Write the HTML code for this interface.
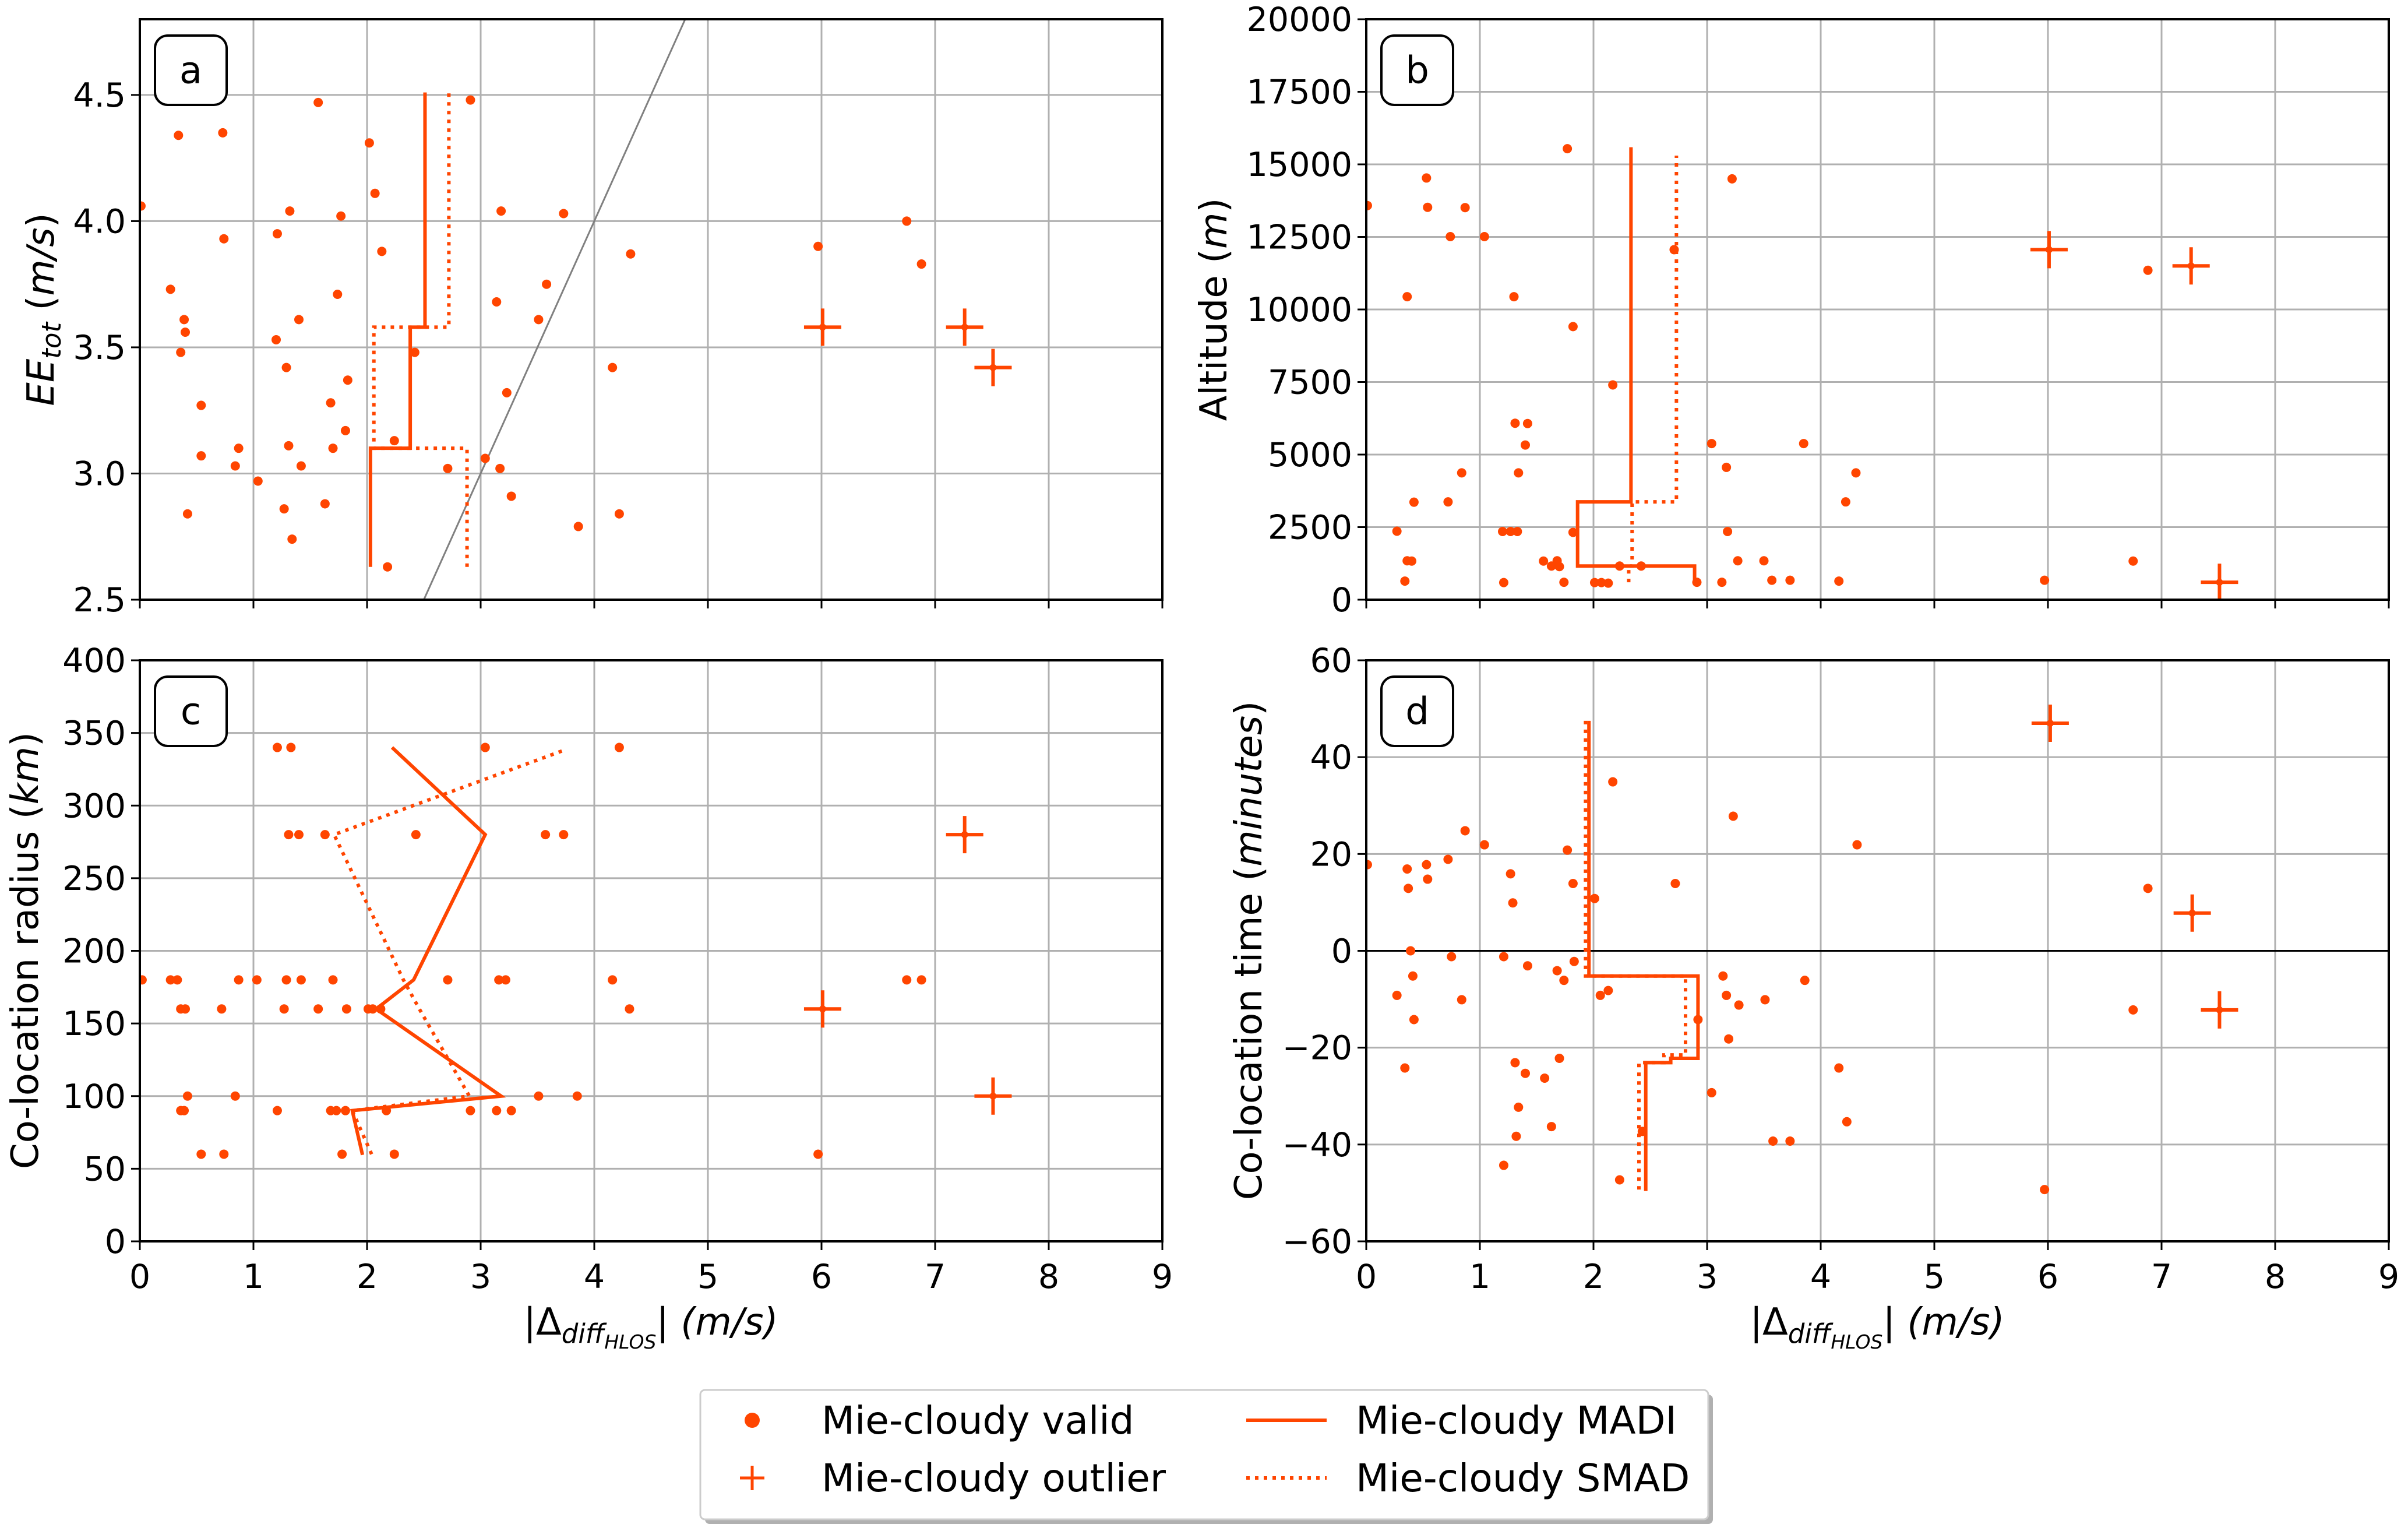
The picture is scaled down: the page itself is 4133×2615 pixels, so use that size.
<!DOCTYPE html>
<html><head><meta charset="utf-8">
<style>
html,body{margin:0;padding:0;background:#fff;}
svg{display:block;font-family:"DejaVu Sans","Liberation Sans",sans-serif;}
</style></head>
<body>
<svg id="fig" width="4133" height="2615" viewBox="0 0 4133 2615" xmlns="http://www.w3.org/2000/svg"></svg>
<script>
// ---------- DATA ----------
const aX = [0.01,0.34,0.73,1.57,2.02,2.91,2.07,1.32,1.77,3.18,3.73,0.74,1.21,2.13,4.32,0.27,1.74,3.58,3.14,0.39,0.40,1.40,3.51,1.20,0.36,2.42,1.29,4.16,1.83,3.23,0.54,1.68,1.81,2.24,0.87,1.31,1.70,0.54,3.04,0.84,1.42,2.71,3.17,1.04,3.27,1.27,1.63,0.42,4.22,3.86,1.34,2.18,5.97,6.75,6.88];
const aY = [4.06,4.34,4.35,4.47,4.31,4.48,4.11,4.04,4.02,4.04,4.03,3.93,3.95,3.88,3.87,3.73,3.71,3.75,3.68,3.61,3.56,3.61,3.61,3.53,3.48,3.48,3.42,3.42,3.37,3.32,3.27,3.28,3.17,3.13,3.10,3.11,3.10,3.07,3.06,3.03,3.03,3.02,3.02,2.97,2.91,2.86,2.88,2.84,2.84,2.79,2.74,2.63,3.90,4.00,3.83];
const aOutX = [6.01,7.26,7.51];
const aOutY = [3.58,3.58,3.42];
const aEdges = [2.63,3.10,3.58,4.51];
const aMADI = [2.03,2.38,2.51];
const aSMAD = [2.88,2.06,2.72];

const bX = [0.01,0.53,0.54,0.87,0.74,1.04,0.36,1.30,1.77,1.82,3.22,2.71,2.17,1.31,1.42,1.40,3.04,3.85,0.84,1.34,3.17,4.31,0.42,0.72,4.22,0.27,1.20,1.27,1.33,1.82,3.18,0.36,0.40,1.56,1.63,1.68,1.70,2.23,2.42,3.27,3.50,0.34,1.21,1.74,2.01,2.07,2.13,2.91,3.13,3.57,3.73,4.16,5.97,6.75,6.88];
const bY = [13580,14530,13520,13510,12510,12510,10440,10440,15540,9410,14500,12060,7400,6080,6070,5330,5380,5380,4370,4370,4560,4370,3360,3370,3370,2360,2350,2350,2350,2320,2350,1340,1330,1330,1160,1340,1140,1160,1160,1340,1340,640,590,600,590,590,570,600,600,670,670,640,670,1330,11350];
const bOutX = [6.01,7.26,7.51];
const bOutY = [12060,11500,600];
const bEdges = [600,1160,3370,15590];
const bMADI = [2.89,1.86,2.33];
const bSMADEdges = [600,1160,3370,15300];
const bSMAD = [2.31,2.34,2.73];

const cX = [1.21,1.33,3.04,4.22,1.31,1.40,1.63,2.43,3.57,3.73,0.02,0.27,0.33,0.87,1.03,1.29,1.42,1.70,2.71,3.16,3.22,4.16,6.75,6.88,0.36,0.40,0.72,1.27,1.57,1.82,2.01,2.05,2.12,4.31,0.42,0.84,3.51,3.85,0.36,0.39,1.21,1.68,1.73,1.81,2.17,2.91,3.14,3.27,0.54,0.74,1.78,2.24,5.97];
const cY = [340,340,340,340,280,280,280,280,280,280,180,180,180,180,180,180,180,180,180,180,180,180,180,180,160,160,160,160,160,160,160,160,160,160,100,100,100,100,90,90,90,90,90,90,90,90,90,90,60,60,60,60,60];
const cOutX = [6.01,7.26,7.51];
const cOutY = [160,280,100];
const cMADIx = [1.96,1.87,3.18,2.08,2.41,3.04,2.22];
const cMADIy = [59.5,90,100,160,180,280,340];
const cSMADx = [2.04,1.87,2.90,2.46,2.32,1.71,3.73];
const cSMADy = [60,90,100,160,180,280,338];

const dX = [0.01,0.36,0.37,0.53,0.54,0.72,0.87,1.04,1.27,1.29,1.77,1.82,2.01,2.17,2.72,3.23,4.32,6.88,0.39,0.27,0.41,0.42,0.75,0.84,0.34,1.21,1.42,1.68,1.74,1.83,2.06,2.13,2.92,3.14,3.17,3.28,3.51,3.86,3.19,6.75,1.31,1.40,1.57,1.70,3.04,1.34,1.63,1.32,2.43,3.58,3.73,4.16,4.23,1.21,2.23,5.97];
const dY = [17.8,16.9,12.9,17.8,14.8,18.9,24.8,21.9,15.9,9.9,20.8,13.9,10.8,34.9,13.9,27.8,21.9,12.9,0,-9.2,-5.2,-14.2,-1.2,-10.1,-24.2,-1.2,-3.1,-4.1,-6.1,-2.2,-9.2,-8.2,-14.2,-5.2,-9.2,-11.2,-10.1,-6.1,-18.2,-12.2,-23.1,-25.3,-26.3,-22.2,-29.3,-32.3,-36.3,-38.3,-37.3,-39.3,-39.3,-24.2,-35.3,-44.3,-47.3,-49.3];
const dOutX = [6.02,7.27,7.51];
const dOutY = [47,7.8,-12.2];
const dEdges = [47.5,-5.2,-22.2,-23.1,-49.6];
const dMADI = [1.96,2.92,2.68,2.46];
const dSMADEdges = [47.5,-5.2,-21.5,-23.1,-49.3];
const dSMAD = [1.93,2.81,2.62,2.40];

const xTicks = [0,1,2,3,4,5,6,7,8,9];
const aTicks = [2.5,3.0,3.5,4.0,4.5];
const aTickLabels = ["2.5","3.0","3.5","4.0","4.5"];
const bTicks = [0,2500,5000,7500,10000,12500,15000,17500,20000];
const cTicks = [0,50,100,150,200,250,300,350,400];
const dTicks = [-60,-40,-20,0,20,40,60];
const dTickLabels = ["\u221260","\u221240","\u221220","0","20","40","60"];

// ---------- DRAWING ----------
const NS = "http://www.w3.org/2000/svg";
const svg = document.getElementById("fig");
const OR = "#ff4500";
function el(tag, attrs, parent){
  const e = document.createElementNS(NS, tag);
  for (const k in attrs) e.setAttribute(k, attrs[k]);
  (parent||svg).appendChild(e);
  return e;
}
function makeAxes(L,T,R,B,xmin,xmax,ymin,ymax){
  return {L,T,R,B,
    x:v=>L+(v-xmin)/(xmax-xmin)*(R-L),
    y:v=>B-(v-ymin)/(ymax-ymin)*(B-T)};
}

function drawPanel(id, ax, yTicks, yLabels, showXLabels){
  const g = el("g", {});
  
  
  const clipId = "clip"+id;
  const cp = el("clipPath",{id:clipId}, g);
  el("rect",{x:ax.L,y:ax.T,width:ax.R-ax.L,height:ax.B-ax.T}, cp);
  const grid = el("g",{stroke:"#b0b0b0","stroke-width":3}, g);
  
  
  xTicks.forEach(t=>{ el("line",{x1:ax.x(t),x2:ax.x(t),y1:ax.T,y2:ax.B}, grid); });
  yTicks.forEach(t=>{ el("line",{x1:ax.L,x2:ax.R,y1:ax.y(t),y2:ax.y(t)}, grid); });
  const tk = el("g",{stroke:"#000","stroke-width":3}, g);
  
  
  xTicks.forEach(t=>{ el("line",{x1:ax.x(t),x2:ax.x(t),y1:ax.B,y2:ax.B+15}, tk); });
  yTicks.forEach(t=>{ el("line",{x1:ax.L-15,x2:ax.L,y1:ax.y(t),y2:ax.y(t)}, tk); });
  yTicks.forEach((t,i)=>{
    const tx = el("text",{x:ax.L-24,y:ax.y(t)+20,"text-anchor":"end","font-size":57}, g);
    
    
    tx.textContent = yLabels[i];
  });
  if (showXLabels){
    xTicks.forEach(t=>{
      const tx = el("text",{x:ax.x(t),y:ax.B+80,"text-anchor":"middle","font-size":57}, g);
      
      
      tx.textContent = String(t);
    });
  }
  const plot = el("g",{"clip-path":"url(#"+clipId+")"}, g);
  return {g, plot};
}

function drawDots(plot, ax, xs, ys, id){
  xs.forEach((v,i)=>{
    const c = el("circle",{cx:ax.x(v),cy:ax.y(ys[i]),r:8,fill:OR}, plot);
    
    
  });
}
function drawOutliers(plot, ax, xs, ys, id){
  xs.forEach((v,i)=>{
    const cx=ax.x(v), cy=ax.y(ys[i]);
    const p = el("path",{d:`M${cx-32},${cy}H${cx+32}M${cx},${cy-32}V${cy+32}`,stroke:OR,"stroke-width":6,fill:"none"}, plot);
    
    
    el("circle",{cx:cx,cy:cy,r:6,fill:OR}, plot);
  });
}
function stepPath(ax, edges, vals){
  let d = `M${ax.x(vals[0])},${ax.y(edges[0])}`;
  for (let i=0;i<vals.length;i++){
    if (i>0) d += `H${ax.x(vals[i])}`;
    d += `V${ax.y(edges[i+1])}`;
  }
  return d;
}
function polyPath(ax, xs, ys){
  return xs.map((v,i)=>(i?"L":"M")+ax.x(v)+","+ax.y(ys[i])).join("");
}
function drawLine(plot, d, dotted, name){
  const p = el("path",{d:d,stroke:OR,"stroke-width":6,fill:"none"}, plot);
  if (dotted) p.setAttribute("stroke-dasharray","6 9");
  
  
}
function frame(g, ax){
  el("rect",{x:ax.L,y:ax.T,width:ax.R-ax.L,height:ax.B-ax.T,fill:"none",stroke:"#000","stroke-width":4}, g);
}
function letterBox(g, ax, letter, h){
  const x=ax.L+26, y=ax.T+28;
  const b = el("rect",{x:x,y:y,width:123,height:h,rx:22,ry:22,fill:"#fff",stroke:"#000","stroke-width":4}, g);
  
  
  const t = el("text",{x:x+61.5,y:y+h/2+22,"text-anchor":"middle","font-size":64}, g);
  
  
  t.textContent = letter;
}
function xLabel(cx, y){
  const t = el("text",{x:cx,y:y,"text-anchor":"middle","font-size":64});
  
  
  t.innerHTML = '|Δ<tspan font-style="italic" font-size="45" dy="14">diff</tspan><tspan font-style="italic" font-size="33" dy="10">HLOS</tspan><tspan dy="-24">| </tspan><tspan font-style="italic">(m/s)</tspan>';
}
function yLabel(x, cy, html){
  const t = el("text",{x:0,y:0,"text-anchor":"middle","font-size":64,transform:`translate(${x},${cy}) rotate(-90)`});
  
  
  t.innerHTML = html;
}

const axA = makeAxes(240,33,1995,1029,0,9,2.5,4.8);
let P = drawPanel("a", axA, aTicks, aTickLabels, false);
el("line",{x1:axA.x(2.5),y1:axA.y(2.5),x2:axA.x(4.8),y2:axA.y(4.8),stroke:"#808080","stroke-width":3}, P.plot);
drawDots(P.plot, axA, aX, aY, "a");
drawOutliers(P.plot, axA, aOutX, aOutY, "a");
drawLine(P.plot, stepPath(axA, aEdges, aMADI), false, "madi-line-a");
drawLine(P.plot, stepPath(axA, aEdges, aSMAD), true, "smad-line-a");
frame(P.g, axA); letterBox(P.g, axA, "a", 119);

const axB = makeAxes(2345,33,4100,1029,0,9,0,20000);
P = drawPanel("b", axB, bTicks, bTicks.map(String), false);
drawDots(P.plot, axB, bX, bY, "b");
drawOutliers(P.plot, axB, bOutX, bOutY, "b");
drawLine(P.plot, stepPath(axB, bEdges, bMADI), false, "madi-line-b");
drawLine(P.plot, stepPath(axB, bSMADEdges, bSMAD), true, "smad-line-b");
frame(P.g, axB); letterBox(P.g, axB, "b", 119);

const axC = makeAxes(240,1133,1995,2130,0,9,0,400);
P = drawPanel("c", axC, cTicks, cTicks.map(String), true);
drawDots(P.plot, axC, cX, cY, "c");
drawOutliers(P.plot, axC, cOutX, cOutY, "c");
drawLine(P.plot, polyPath(axC, cMADIx, cMADIy), false, "madi-line-c");
drawLine(P.plot, polyPath(axC, cSMADx, cSMADy), true, "smad-line-c");
frame(P.g, axC); letterBox(P.g, axC, "c", 119);

const axD = makeAxes(2345,1133,4100,2130,0,9,-60,60);
P = drawPanel("d", axD, dTicks, dTickLabels, true);
el("line",{x1:axD.L,x2:axD.R,y1:axD.y(0),y2:axD.y(0),stroke:"#000","stroke-width":3}, P.plot);
drawDots(P.plot, axD, dX, dY, "d");
drawOutliers(P.plot, axD, dOutX, dOutY, "d");
drawLine(P.plot, stepPath(axD, dEdges, dMADI), false, "madi-line-d");
drawLine(P.plot, stepPath(axD, dSMADEdges, dSMAD), true, "smad-line-d");
frame(P.g, axD); letterBox(P.g, axD, "d", 119);

yLabel(92, 531, '<tspan font-style="italic">EE</tspan><tspan font-style="italic" font-size="45" dy="12">tot</tspan><tspan dy="-12"> (</tspan><tspan font-style="italic">m/s</tspan>)');
yLabel(2105, 531, 'Altitude (<tspan font-style="italic">m</tspan>)');
yLabel(65, 1631, 'Co-location radius (<tspan font-style="italic">km</tspan>)');
yLabel(2165, 1631, 'Co-location time (<tspan font-style="italic">minutes</tspan>)');
xLabel(1117, 2290);
xLabel(3222, 2290);

const lg = el("g",{});


el("rect",{x:1210,y:2393,width:1730,height:222,rx:8,fill:"#b0b0b0"}, lg);
el("rect",{x:1202,y:2385,width:1730,height:222,rx:8,fill:"#fff",stroke:"#cccccc","stroke-width":3}, lg);
const e1 = el("circle",{cx:1291,cy:2437,r:13,fill:OR}, lg);


const e2 = el("path",{d:"M1270,2536H1312M1291,2515V2557",stroke:OR,"stroke-width":5}, lg);


const e3 = el("line",{x1:2139,x2:2277,y1:2437,y2:2437,stroke:OR,"stroke-width":6}, lg);


const e4 = el("line",{x1:2139,x2:2277,y1:2536,y2:2536,stroke:OR,"stroke-width":6,"stroke-dasharray":"6 9"}, lg);


[["Mie-cloudy valid",1410,2460],["Mie-cloudy outlier",1410,2559],["Mie-cloudy MADI",2327,2460],["Mie-cloudy SMAD",2327,2559]].forEach(a=>{
  const t = el("text",{x:a[1],y:a[2],"font-size":66}, lg);
  
  
  t.textContent = a[0];
});
</script>
</body></html>
